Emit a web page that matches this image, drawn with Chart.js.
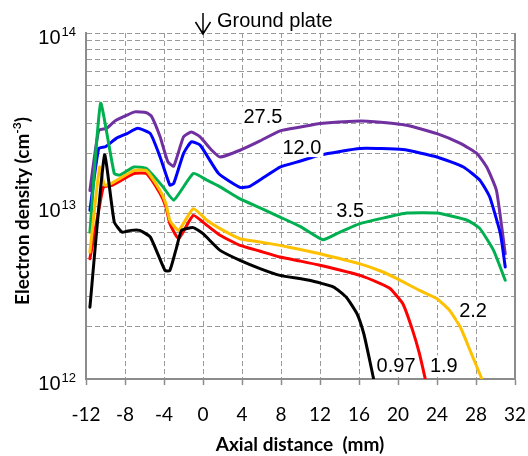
<!DOCTYPE html>
<html>
<head>
<meta charset="utf-8">
<script src="https://cdn.jsdelivr.net/npm/chart.js@4.4.1/dist/chart.umd.min.js"></script>
<style>
    body { margin: 0; background: #fff; }
    #wrap { width: 528px; height: 456px; position: relative; }
</style>
</head>
<body>
<div id="wrap"><canvas id="densityChart"></canvas></div>
<script>
// Axial distance (mm) and electron density (cm^-3) per curve
const xBlack = [-11.6, -10.1, -9.1, -8.3, -7.4, -6.5, -5.4, -3.9, -3.4, -2.7, -2.2, -1.0, 0.0, 1.75, 3.8, 5.85, 7.9, 10.9, 13.4, 14.7, 15.8, 16.5, 17.1, 17.5];
const nBlack = [2.60e12, 1.97e13, 8.08e12, 7.06e12, 7.23e12, 7.23e12, 6.61e12, 4.24e12, 4.24e12, 5.79e12, 7.23e12, 7.5e12, 6.92e12, 5.54e12, 4.85e12, 4.35e12, 3.97e12, 3.72e12, 3.40e12, 2.97e12, 2.38e12, 1.82e12, 1.28e12, 1.0e12];

const xOrange = [-11.6, -10.6, -10.1, -9.4, -7.1, -5.8, -4.4, -3.8, -3.4, -2.5, -1.0, 0.4, 1.75, 3.8, 5.8, 7.9, 10, 12, 16.1, 18.2, 19.9, 22.2, 24.0, 25.3, 26.4, 27.4, 28.6];
const nOrange = [5.42e12, 1.68e13, 1.32e13, 1.35e13, 1.60e13, 1.60e13, 1.23e13, 1.03e13, 8.27e12, 7.23e12, 9.66e12, 8.27e12, 7.4e12, 6.47e12, 6.2e12, 5.92e12, 5.6e12, 5.30e12, 4.63e12, 4.21e12, 3.80e12, 3.25e12, 2.91e12, 2.49e12, 1.99e12, 1.46e12, 1.0e12];

const xRed = [-11.6, -10.6, -10.2, -9.4, -7.1, -5.8, -4.4, -3.8, -3.4, -2.5, -1.0, 0.4, 1.75, 3.8, 5.8, 7.9, 10, 12, 16.1, 18.2, 19.2, 20.5, 21.5, 22.2, 22.8];
const nRed = [4.96e12, 1.01e13, 1.29e13, 1.31e13, 1.54e13, 1.54e13, 1.18e13, 9.87e12, 7.91e12, 6.47e12, 8.83e12, 7.73e12, 6.77e12, 5.92e12, 5.49e12, 5.07e12, 4.8e12, 4.54e12, 3.97e12, 3.56e12, 3.33e12, 2.72e12, 1.91e12, 1.40e12, 1.0e12];

const xGreen = [-11.6, -10.5, -9.1, -8.5, -7.1, -5.8, -4.1, -3.0, -1.0, 0.4, 1.75, 3.8, 5.8, 7.9, 10, 12.3, 14, 16.1, 18.2, 20.9, 24.0, 27.1, 28.4, 29.8, 31.0];
const nGreen = [7.06e12, 3.92e13, 1.54e13, 1.51e13, 1.68e13, 1.65e13, 1.29e13, 1.08e13, 1.54e13, 1.41e13, 1.29e13, 1.10e13, 9.8e12, 8.63e12, 7.6e12, 6.38e12, 7.05e12, 7.91e12, 8.45e12, 9.1e12, 9.1e12, 8.27e12, 7.4e12, 5.54e12, 3.72e12];

const xBlue = [-11.6, -10.7, -10.0, -8.9, -7.8, -6.7, -5.4, -4.4, -3.4, -3.0, -2.0, -1.2, -0.3, 1.6, 3.8, 4.8, 6.3, 7.9, 10, 12, 16.1, 20.5, 24.0, 26.7, 28.4, 29.4, 30.5, 31.0];
const nBlue = [9.45e12, 2.15e13, 2.20e13, 2.46e13, 2.62e13, 2.81e13, 2.62e13, 1.92e13, 1.32e13, 1.35e13, 2.01e13, 2.35e13, 2.25e13, 1.54e13, 1.28e13, 1.30e13, 1.47e13, 1.68e13, 1.82e13, 1.97e13, 2.15e13, 2.12e13, 1.92e13, 1.68e13, 1.41e13, 1.13e13, 6.92e12, 4.44e12];

const xPurple = [-11.6, -10.7, -9.9, -9.0, -7.8, -7.0, -5.8, -5.3, -4.4, -3.6, -3.0, -2.0, -1.2, -0.3, 0.9, 1.75, 3.8, 5.8, 7.9, 10, 12, 16.1, 17.6, 20.9, 24.0, 26.4, 28.1, 29.1, 30.1, 31.0];
const nPurple = [1.23e13, 2.74e13, 2.81e13, 3.11e13, 3.35e13, 3.50e13, 3.46e13, 3.31e13, 2.51e13, 1.80e13, 1.70e13, 2.51e13, 2.68e13, 2.51e13, 2.10e13, 1.92e13, 2.10e13, 2.37e13, 2.72e13, 2.86e13, 3.00e13, 3.10e13, 3.07e13, 2.93e13, 2.62e13, 2.30e13, 2.01e13, 1.68e13, 1.23e13, 5.30e12];

// Log grid lines (1..9 x 10^n) and labelled decades
const yGridValues = [1e12, 2e12, 3e12, 4e12, 5e12, 6e12, 7e12, 8e12, 9e12,
                     1e13, 2e13, 3e13, 4e13, 5e13, 6e13, 7e13, 8e13, 9e13, 1e14];
const yDecades = [12, 13, 14];

// Curve labels, placed in data coordinates
const curveLabels = ['27.5', '12.0', '3.5', '2.2', '0.97', '1.9'];
const labelX = [6.15, 10.15, 15.1, 27.7, 19.8, 24.7];
const labelY = [3.3e13, 2.19e13, 9.45e12, 2.49e12, 1.2e12, 1.2e12];

function toPoints(xs, ys) {
    return xs.map((x, i) => ({ x: x, y: ys[i] }));
}

function curve(xs, ys, color) {
    return {
        data: toPoints(xs, ys),
        borderColor: color,
        borderWidth: 3,
        pointRadius: 0,
        tension: 0.15,
        borderJoinStyle: 'round',
        borderCapStyle: 'round',
        fill: false
    };
}

// Draw border, decade labels, axis titles, curve labels and the ground plate marker
const decorations = {
    id: 'decorations',
    afterDraw(chart) {
        const { ctx, chartArea: a, scales: { x, y } } = chart;
        ctx.save();

        // right border
        ctx.strokeStyle = '#8c8c8c';
        ctx.lineWidth = 2;
        ctx.beginPath();
        ctx.moveTo(a.right, a.top);
        ctx.lineTo(a.right, a.bottom);
        ctx.stroke();

        // decade labels 10^n
        ctx.fillStyle = '#000';
        ctx.textBaseline = 'alphabetic';
        yDecades.forEach(exp => {
            const py = y.getPixelForValue(Math.pow(10, exp));
            ctx.font = '13px "Liberation Sans"';
            ctx.textAlign = 'right';
            ctx.fillText(String(exp), 76, py + 3);
            const supW = ctx.measureText(String(exp)).width;
            ctx.font = '20px "Liberation Sans"';
            ctx.fillText('10', 76 - supW - 1, py + 11);
        });

        // y axis title with superscript
        ctx.save();
        ctx.translate(23, 211);
        ctx.rotate(-Math.PI / 2);
        const mainFont = 'bold 19px Lato';
        const supFont = 'bold 12px Lato';
        ctx.font = mainFont;
        const t1 = 'Electron density (cm';
        const w1 = ctx.measureText(t1).width;
        const w3 = ctx.measureText(')').width;
        ctx.font = supFont;
        const w2 = ctx.measureText('-3').width;
        let sx = -(w1 + w2 + w3) / 2;
        ctx.textAlign = 'left';
        ctx.font = mainFont;
        ctx.fillText(t1, sx, 6);
        ctx.font = supFont;
        ctx.fillText('-3', sx + w1, -2);
        ctx.font = mainFont;
        ctx.fillText(')', sx + w1 + w2, 6);
        ctx.restore();

        // x axis title
        ctx.font = 'bold 19px Lato';
        ctx.textAlign = 'center';
        ctx.fillText('Axial distance  (mm)', 300, 451);

        // ground plate marker
        const gx = x.getPixelForValue(0);
        ctx.strokeStyle = '#000';
        ctx.lineWidth = 1.5;
        ctx.beginPath();
        ctx.moveTo(gx, 13);
        ctx.lineTo(gx, 34);
        ctx.moveTo(gx - 7.5, 22);
        ctx.lineTo(gx, 34);
        ctx.lineTo(gx + 7.5, 22);
        ctx.stroke();
        ctx.font = '20px "Liberation Sans"';
        ctx.textAlign = 'left';
        ctx.fillText('Ground plate', gx + 14, 27);

        // curve labels on white boxes
        ctx.font = '20px "Liberation Sans"';
        ctx.textAlign = 'center';
        ctx.textBaseline = 'middle';
        curveLabels.forEach((txt, i) => {
            const px = x.getPixelForValue(labelX[i]);
            const py = y.getPixelForValue(labelY[i]);
            const w = ctx.measureText(txt).width;
            ctx.fillStyle = '#fff';
            ctx.fillRect(px - w / 2 - 2, py - 10, w + 4, 20);
            ctx.fillStyle = '#000';
            ctx.fillText(txt, px, py + 1);
        });

        ctx.restore();
    }
};

document.addEventListener('DOMContentLoaded', function() {
    const ctx = document.getElementById('densityChart').getContext('2d');
    new Chart(ctx, {
        type: 'line',
        data: {
            datasets: [
                curve(xBlack, nBlack, '#000000'),
                curve(xOrange, nOrange, '#FFC000'),
                curve(xRed, nRed, '#FF0000'),
                curve(xGreen, nGreen, '#00B050'),
                curve(xBlue, nBlue, '#0000FF'),
                curve(xPurple, nPurple, '#7030A0')
            ]
        },
        options: {
            responsive: true,
            maintainAspectRatio: false,
            animation: false,
            layout: { padding: { left: 0, right: 13, top: 33, bottom: 0 } },
            plugins: {
                legend: { display: false },
                tooltip: { enabled: false }
            },
            scales: {
                x: {
                    type: 'linear',
                    min: -12,
                    max: 32,
                    afterFit: scale => {
                        scale.height = 77;
                        scale.paddingLeft = 0;
                        scale.paddingRight = 0;
                    },
                    ticks: {
                        stepSize: 4,
                        padding: 18,
                        color: '#000',
                        font: { family: 'Lato', size: 19 },
                        maxRotation: 0,
                        autoSkip: false,
                        callback: value => String(value)
                    },
                    grid: {
                        color: '#9a9a9a',
                        lineWidth: 1,
                        drawTicks: true,
                        tickLength: 6,
                        tickColor: '#8c8c8c',
                        tickWidth: 1.5
                    },
                    border: { display: true, color: '#8c8c8c', width: 2, dash: [5, 3] }
                },
                y: {
                    type: 'logarithmic',
                    min: 1e12,
                    max: 1e14,
                    afterFit: scale => { scale.width = 86; },
                    afterBuildTicks: scale => {
                        scale.ticks = yGridValues.map(v => ({ value: v }));
                    },
                    ticks: { display: false },
                    grid: {
                        color: '#9a9a9a',
                        lineWidth: 1,
                        drawTicks: false
                    },
                    border: { display: true, color: '#8c8c8c', width: 2, dash: [5, 3] }
                }
            }
        },
        plugins: [decorations]
    });
});
</script>
</body>
</html>
